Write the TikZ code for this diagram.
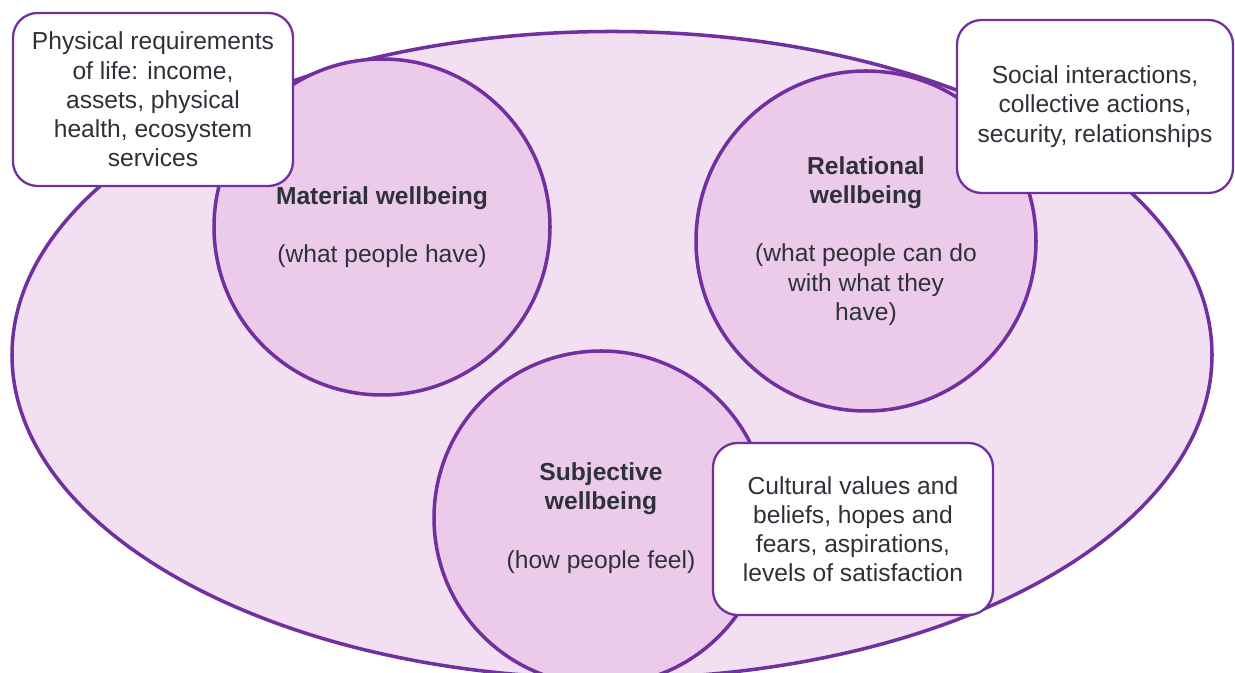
\documentclass[tikz,border=0pt]{standalone}
\usepackage{fontspec}
\setmainfont{Liberation Sans}
\usepackage{xcolor}
\definecolor{wbpurple}{RGB}{112,48,160}
\definecolor{wbouter}{RGB}{243,223,242}
\definecolor{wbinner}{RGB}{235,202,234}
\definecolor{wbtext}{RGB}{45,50,56}
\usetikzlibrary{positioning,shapes.geometric}

\begin{document}
\begin{tikzpicture}[
    every node/.style={font=\fontsize{14pt}{16.6pt}\selectfont, text=wbtext},
    wbcircle/.style={circle, draw=wbpurple, line width=2pt, fill=wbinner,
      inner sep=0pt, align=center},
    notebox/.style={draw=wbpurple, line width=1.3pt, fill=white,
      rounded corners=14pt, align=center, minimum width=5.6cm,
      minimum height=3.46cm}]

\useasboundingbox (0,0) rectangle (24.7,13.46);
\clip (0,0) rectangle (24.7,13.46);

% --- Outer ellipse ---
\node[ellipse, draw=wbpurple, line width=2pt, fill=wbouter,
      minimum width=24cm, minimum height=12.94cm] (wellbeing) at (12.24,6.36) {};

% --- Three dimensions ---
\node[wbcircle, minimum size=6.72cm] (material) at (7.64,8.92)
      {\textbf{Material wellbeing}\\ \\ (what people have)};

\node[wbcircle, minimum size=6.8cm] (relational) at (17.32,8.64)
      {\textbf{Relational}\\ \textbf{wellbeing}\\ \\ (what people can do\\
      with what they\\ have)};

\node[wbcircle, minimum size=6.68cm] (subjective) at (12.02,3.1)
      {\textbf{Subjective}\\ \textbf{wellbeing}\\ \\ (how people feel)};

% --- Notes ---
\node[notebox] (matnote) at (3.06,11.47)
      {Physical requirements\\ of life: income,\\ assets, physical\\
      health, ecosystem\\ services};

\node[notebox, minimum width=5.52cm] (relnote) at (21.9,11.33)
      {Social interactions,\\ collective actions,\\ security, relationships};

\node[notebox, minimum height=3.44cm] (subjnote) at (17.06,2.88)
      {Cultural values and\\ beliefs, hopes and\\ fears, aspirations,\\
      levels of satisfaction};

\end{tikzpicture}
\end{document}
